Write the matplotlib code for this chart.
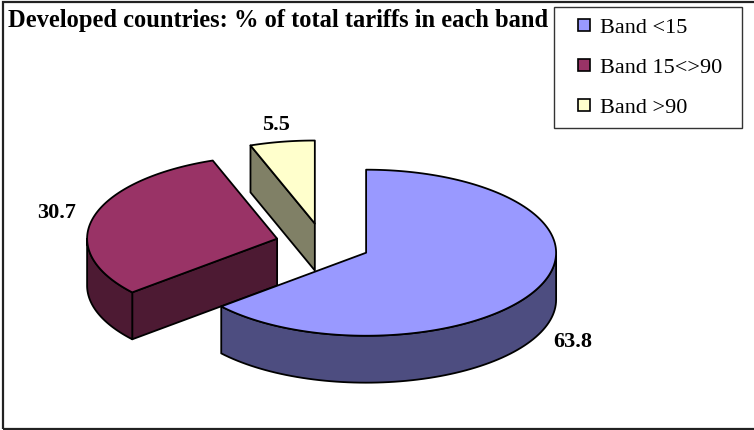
import matplotlib.pyplot as plt
import numpy as np
from matplotlib.patches import Polygon, Rectangle, Patch
from matplotlib.legend_handler import HandlerPatch

plt.rcParams['font.family'] = ['Liberation Serif', 'DejaVu Serif']

title = 'Developed countries: % of total tariffs in each band'
bands = ['Band <15', 'Band 15<>90', 'Band >90']
shares = [63.8, 30.7, 5.5]
top_colors = ['#9999FF', '#993366', '#FFFFCC']
side_colors = ['#4D4D80', '#4D1A33', '#808066']

# pie geometry, axis units (1 = horizontal radius)
RY = 0.437      # vertical squash of the tilted disc
DEPTH = 0.247   # thickness of the disc
EXPLODE = 0.25
W, H = 754, 430
PX = 190.0      # pixels per unit
CX, CY = 323, 244


def rim(cx, cy, angles, dz=0.0):
    # angles are degrees clockwise from 12 o'clock
    a = np.radians(angles)
    return np.column_stack([cx + np.sin(a), cy + RY * np.cos(a) - dz])


fig = plt.figure(figsize=(W / 100, H / 100), dpi=100)
ax = fig.add_axes([0, 0, 1, 1])
ax.set_xlim(-CX / PX, (W - CX) / PX)
ax.set_ylim(-(H - CY) / PX, CY / PX)
ax.axis('off')

edge = dict(edgecolor='black', linewidth=1.3, joinstyle='round')

bounds = np.concatenate([[0], np.cumsum(shares)]) / sum(shares) * 360
slices = []
for i in range(len(shares)):
    t1, t2 = bounds[i], bounds[i + 1]
    mid = np.radians((t1 + t2) / 2)
    cx = EXPLODE * np.sin(mid)
    cy = EXPLODE * RY * np.cos(mid)
    slices.append((cy, i, t1, t2, mid, cx))

# paint back to front
for cy, i, t1, t2, mid, cx in sorted(slices, reverse=True):
    # radial side faces
    for t, show in ((t1, np.sin(np.radians(t1)) < -1e-9),
                    (t2, np.sin(np.radians(t2)) > 1e-9)):
        if show:
            p = rim(cx, cy, [t])[0]
            quad = [(cx, cy), p, (p[0], p[1] - DEPTH), (cx, cy - DEPTH)]
            ax.add_patch(Polygon(quad, facecolor=side_colors[i], **edge))
    # outer wall, only the part facing the viewer
    lo, hi = max(t1, 90), min(t2, 270)
    if hi > lo:
        arc = np.linspace(lo, hi, 80)
        wall = np.vstack([rim(cx, cy, arc), rim(cx, cy, arc[::-1], DEPTH)])
        ax.add_patch(Polygon(wall, facecolor=side_colors[i], **edge))
    # top face
    arc = np.linspace(t1, t2, 160)
    top = np.vstack([[(cx, cy)], rim(cx, cy, arc)])
    ax.add_patch(Polygon(top, facecolor=top_colors[i], **edge))
    # value label outside the slice
    lx = cx + 1.2 * np.sin(mid)
    ly = cy + 1.2 * RY * np.cos(mid) - (DEPTH if np.cos(mid) < 0 else 0)
    ax.text(lx, ly, f'{shares[i]:.1f}', ha='center', va='center',
            fontsize=16, fontweight='bold')

fig.text(8 / W, 1 - 21 / H, title, ha='left', va='center',
         fontsize=17.65, fontweight='bold')


def small_square(legend, orig_handle, xdescent, ydescent, width, height, fontsize):
    s = 12 * 72 / 100
    return Rectangle((width - s - xdescent, (height - s) / 2 - ydescent), s, s)


handles = [Patch(facecolor=c, edgecolor='black', linewidth=1.2) for c in top_colors]
leg = fig.legend(handles, bands, loc='upper left', mode='expand',
                 bbox_to_anchor=(554 / W, 1 - 125 / H, 188 / W, 118 / H),
                 borderaxespad=0,
                 fontsize=16, frameon=True, fancybox=False, shadow=False,
                 borderpad=0.45, labelspacing=0.88, handlelength=1.17,
                 handleheight=0.7, handletextpad=0.45,
                 handler_map={Patch: HandlerPatch(patch_func=small_square)})
leg.get_frame().set_edgecolor('black')
leg.get_frame().set_linewidth(1.0)

# chart area border (open on the right)
fig.patches.append(Rectangle((3 / W, 1.5 / H), 1.0, 1 - 3 / H, fill=False,
                             edgecolor='#222222', linewidth=1.6,
                             transform=fig.transFigure))

fig.savefig('out.png', dpi=100)
